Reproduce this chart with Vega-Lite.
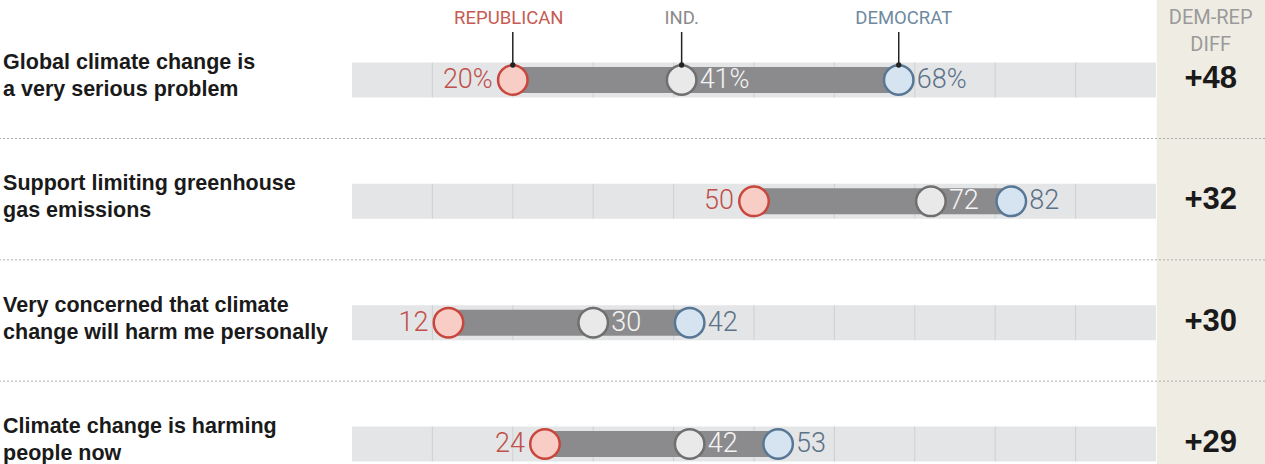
{
  "$schema": "https://vega.github.io/schema/vega-lite/v6.json",
  "width": 1265,
  "height": 464,
  "padding": 0,
  "autosize": {"type": "none"},
  "background": "white",
  "config": {"view": {"stroke": null}, "text": {"lineBreak": "\n"}, "scale": {"continuousPadding": 0}},
  "datasets": {
    "rows": [
      {"n": 1, "q": "Global climate change is\na very serious problem", "rep": 20, "ind": 41, "dem": 68, "repLab": "20%", "indLab": "41%", "demLab": "68%", "diff": "+48"},
      {"n": 2, "q": "Support limiting greenhouse\ngas emissions", "rep": 50, "ind": 72, "dem": 82, "repLab": "50", "indLab": "72", "demLab": "82", "diff": "+32"},
      {"n": 3, "q": "Very concerned that climate\nchange will harm me personally", "rep": 12, "ind": 30, "dem": 42, "repLab": "12", "indLab": "30", "demLab": "42", "diff": "+30"},
      {"n": 4, "q": "Climate change is harming\npeople now", "rep": 24, "ind": 42, "dem": 53, "repLab": "24", "indLab": "42", "demLab": "53", "diff": "+29"}
    ],
    "grid": [
      {"n": 1, "g": 10}, {"n": 1, "g": 20}, {"n": 1, "g": 30}, {"n": 1, "g": 40}, {"n": 1, "g": 50}, {"n": 1, "g": 60}, {"n": 1, "g": 70}, {"n": 1, "g": 80}, {"n": 1, "g": 90},
      {"n": 2, "g": 10}, {"n": 2, "g": 20}, {"n": 2, "g": 30}, {"n": 2, "g": 40}, {"n": 2, "g": 50}, {"n": 2, "g": 60}, {"n": 2, "g": 70}, {"n": 2, "g": 80}, {"n": 2, "g": 90},
      {"n": 3, "g": 10}, {"n": 3, "g": 20}, {"n": 3, "g": 30}, {"n": 3, "g": 40}, {"n": 3, "g": 50}, {"n": 3, "g": 60}, {"n": 3, "g": 70}, {"n": 3, "g": 80}, {"n": 3, "g": 90},
      {"n": 4, "g": 10}, {"n": 4, "g": 20}, {"n": 4, "g": 30}, {"n": 4, "g": 40}, {"n": 4, "g": 50}, {"n": 4, "g": 60}, {"n": 4, "g": 70}, {"n": 4, "g": 80}, {"n": 4, "g": 90}
    ]
  },
  "data": {"name": "rows"},
  "layer": [
    {
      "mark": {"type": "rect", "color": "#efece3"},
      "transform": [{"filter": "datum.n == 1"}],
      "encoding": {
        "x": {"datum": 100.1, "type": "quantitative", "scale": {"domain": [0, 100], "range": [352, 1156], "padding": 0}, "axis": null},
        "x2": {"value": "width"},
        "y": {"value": 0},
        "y2": {"value": "height"}
      }
    },
    {
      "mark": {"type": "rule", "color": "#aaaaaa", "strokeWidth": 1, "strokeDash": [2, 2], "yOffset": 58.5},
      "encoding": {
        "y": {"field": "n", "type": "quantitative", "scale": {"domain": [1, 4], "range": [80, 444], "padding": 0, "zero": false, "nice": false}, "axis": null}
      }
    },
    {
      "mark": {"type": "bar", "color": "#e4e5e7", "size": 35},
      "encoding": {
        "x": {"datum": 0, "type": "quantitative"},
        "x2": {"datum": 100},
        "y": {"field": "n", "type": "quantitative"}
      }
    },
    {
      "data": {"name": "grid"},
      "mark": {"type": "tick", "color": "#c6c7c9", "size": 35, "thickness": 1, "orient": "vertical"},
      "encoding": {
        "x": {"field": "g", "type": "quantitative"},
        "y": {"field": "n", "type": "quantitative"}
      }
    },
    {
      "mark": {"type": "bar", "color": "#8b8b8d", "size": 26},
      "encoding": {
        "x": {"field": "rep", "type": "quantitative"},
        "x2": {"field": "dem"},
        "y": {"field": "n", "type": "quantitative"}
      }
    },
    {
      "transform": [{"filter": "datum.n == 1"}],
      "layer": [
        {"mark": {"type": "rule", "color": "#222222", "strokeWidth": 1.5, "yOffset": -48, "y2Offset": -15}, "encoding": {"x": {"field": "rep", "type": "quantitative"}, "y": {"field": "n", "type": "quantitative"}, "y2": {"field": "n"}}},
        {"mark": {"type": "rule", "color": "#222222", "strokeWidth": 1.5, "yOffset": -48, "y2Offset": -15}, "encoding": {"x": {"field": "ind", "type": "quantitative"}, "y": {"field": "n", "type": "quantitative"}, "y2": {"field": "n"}}},
        {"mark": {"type": "rule", "color": "#222222", "strokeWidth": 1.5, "yOffset": -48, "y2Offset": -15}, "encoding": {"x": {"field": "dem", "type": "quantitative"}, "y": {"field": "n", "type": "quantitative"}, "y2": {"field": "n"}}},
        {"mark": {"type": "text", "text": "REPUBLICAN", "font": "Roboto", "fontSize": 18.5, "letterSpacing": 2.2, "color": "#c65b52", "align": "center", "baseline": "middle", "yOffset": -62, "xOffset": -4}, "encoding": {"x": {"field": "rep", "type": "quantitative"}, "y": {"field": "n", "type": "quantitative"}}},
        {"mark": {"type": "text", "text": "IND.", "font": "Roboto", "fontSize": 18.5, "letterSpacing": 2.2, "color": "#8a8a8a", "align": "center", "baseline": "middle", "yOffset": -62}, "encoding": {"x": {"field": "ind", "type": "quantitative"}, "y": {"field": "n", "type": "quantitative"}}},
        {"mark": {"type": "text", "text": "DEMOCRAT", "font": "Roboto", "fontSize": 18.5, "letterSpacing": 2.2, "color": "#6f8aa0", "align": "center", "baseline": "middle", "yOffset": -62, "xOffset": 5}, "encoding": {"x": {"field": "dem", "type": "quantitative"}, "y": {"field": "n", "type": "quantitative"}}},
        {"mark": {"type": "text", "text": ["DEM-REP", "DIFF"], "font": "Roboto", "fontSize": 20, "lineHeight": 27, "color": "#9a9a9a", "align": "center", "baseline": "middle", "yOffset": -62.5}, "encoding": {"x": {"datum": 106.8, "type": "quantitative"}, "y": {"field": "n", "type": "quantitative"}}}
      ]
    },
    {
      "mark": {"type": "point", "shape": "circle", "size": 870, "filled": false, "fill": "#f7cdc6", "fillOpacity": 1, "stroke": "#c9463d", "strokeWidth": 2.5, "opacity": 1},
      "encoding": {"x": {"field": "rep", "type": "quantitative"}, "y": {"field": "n", "type": "quantitative"}}
    },
    {
      "mark": {"type": "point", "shape": "circle", "size": 870, "filled": false, "fill": "#e9e9ea", "fillOpacity": 1, "stroke": "#6f6f6f", "strokeWidth": 2.5, "opacity": 1},
      "encoding": {"x": {"field": "ind", "type": "quantitative"}, "y": {"field": "n", "type": "quantitative"}}
    },
    {
      "mark": {"type": "point", "shape": "circle", "size": 870, "filled": false, "fill": "#d5e4f0", "fillOpacity": 1, "stroke": "#587795", "strokeWidth": 2.5, "opacity": 1},
      "encoding": {"x": {"field": "dem", "type": "quantitative"}, "y": {"field": "n", "type": "quantitative"}}
    },
    {
      "transform": [{"filter": "datum.n == 1"}],
      "layer": [
        {"mark": {"type": "point", "shape": "circle", "size": 28, "filled": true, "color": "#222222", "opacity": 1, "yOffset": -15}, "encoding": {"x": {"field": "rep", "type": "quantitative"}, "y": {"field": "n", "type": "quantitative"}}},
        {"mark": {"type": "point", "shape": "circle", "size": 28, "filled": true, "color": "#222222", "opacity": 1, "yOffset": -15}, "encoding": {"x": {"field": "ind", "type": "quantitative"}, "y": {"field": "n", "type": "quantitative"}}},
        {"mark": {"type": "point", "shape": "circle", "size": 28, "filled": true, "color": "#222222", "opacity": 1, "yOffset": -15}, "encoding": {"x": {"field": "dem", "type": "quantitative"}, "y": {"field": "n", "type": "quantitative"}}}
      ]
    },
    {
      "mark": {"type": "text", "font": "Roboto", "fontWeight": 300, "fontSize": 27, "color": "#c0504a", "align": "right", "baseline": "middle", "dx": -20},
      "encoding": {"x": {"field": "rep", "type": "quantitative"}, "y": {"field": "n", "type": "quantitative"}, "text": {"field": "repLab"}}
    },
    {
      "mark": {"type": "text", "font": "Roboto", "fontWeight": 300, "fontSize": 27, "color": "#f4f4f4", "align": "left", "baseline": "middle", "dx": 18},
      "encoding": {"x": {"field": "ind", "type": "quantitative"}, "y": {"field": "n", "type": "quantitative"}, "text": {"field": "indLab"}}
    },
    {
      "mark": {"type": "text", "font": "Roboto", "fontWeight": 300, "fontSize": 27, "color": "#5b7288", "align": "left", "baseline": "middle", "dx": 18},
      "encoding": {"x": {"field": "dem", "type": "quantitative"}, "y": {"field": "n", "type": "quantitative"}, "text": {"field": "demLab"}}
    },
    {
      "mark": {"type": "text", "font": "Liberation Sans", "fontWeight": "bold", "fontSize": 21.5, "lineHeight": 27, "color": "#1a1a1a", "align": "left", "baseline": "middle", "yOffset": -17},
      "encoding": {"x": {"datum": -43.4, "type": "quantitative"}, "y": {"field": "n", "type": "quantitative"}, "text": {"field": "q"}}
    },
    {
      "mark": {"type": "text", "font": "Liberation Sans", "fontWeight": "bold", "fontSize": 31, "color": "#1a1a1a", "align": "center", "baseline": "middle", "yOffset": -1},
      "encoding": {"x": {"datum": 106.8, "type": "quantitative"}, "y": {"field": "n", "type": "quantitative"}, "text": {"field": "diff"}}
    }
  ]
}
